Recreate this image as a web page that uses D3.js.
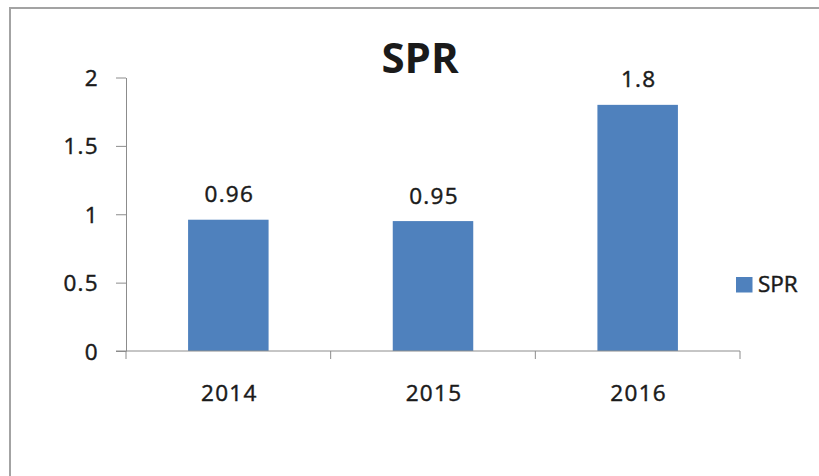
<!DOCTYPE html>
<html>
<head>
<meta charset="utf-8">
<script src="https://cdn.jsdelivr.net/npm/d3@7"></script>
<style>
  html, body { margin: 0; padding: 0; background: #fff; }
  svg { display: block; }
  text { font-family: "Open Sans", sans-serif; fill: #1a1a1a; }
  .reg { stroke: #1a1a1a; stroke-width: 0.45px; }
</style>
</head>
<body>
<svg id="chart" width="819" height="476"></svg>
<script>
const categories = ["2014", "2015", "2016"];
const seriesName = "SPR";
const values = [0.96, 0.95, 1.8];
const yTicks = [0, 0.5, 1, 1.5, 2];
const yTickLabels = ["0", "0.5", "1", "1.5", "2"];

const svg = d3.select("#chart");
const W = 819, H = 476;
const margin = { left: 126, right: 79, top: 77.5, bottom: 125 };
const plotW = W - margin.left - margin.right; // 614

// frame border (chart area outline, clipped by screenshot)
svg.append("path")
  .attr("d", `M10,${H} L10,8 L${W},8`)
  .attr("fill", "none")
  .attr("stroke", "#a3a3a3")
  .attr("stroke-width", 2);

const x = d3.scaleBand().domain(categories).range([margin.left, margin.left + plotW]).paddingInner(0).paddingOuter(0);
const y = d3.scaleLinear().domain([0, 2]).range([351, 77.5]);

const axisColor = "#8c8c8c";

// Y axis
const yAxis = d3.axisLeft(y).tickValues(yTicks)
  .tickFormat((d, i) => yTickLabels[i]).tickSize(10).tickPadding(17).tickSizeOuter(0);
const gy = svg.append("g").attr("transform", `translate(${margin.left},0)`).call(yAxis);
gy.select(".domain").attr("stroke", axisColor);
gy.selectAll(".tick line").attr("stroke", axisColor);
gy.selectAll(".tick text").attr("class", "reg").attr("font-family", "Open Sans").attr("font-size", 22.5)
  .attr("letter-spacing", "1.3px").attr("fill", "#1a1a1a").attr("dy", "0.36em");

// bars
const barW = 80.5;
svg.append("g").selectAll("rect").data(values).join("rect")
  .attr("x", (d, i) => x(categories[i]) + x.bandwidth() / 2 - barW / 2)
  .attr("y", d => y(d))
  .attr("width", barW)
  .attr("height", d => y(0) - y(d))
  .attr("fill", "#4f81bd");

// X axis
const gx = svg.append("g").attr("transform", `translate(0,${y(0)})`);
gx.append("line").attr("x1", margin.left - 10).attr("x2", margin.left + plotW)
  .attr("y1", 0).attr("y2", 0).attr("stroke", axisColor);
const bounds = categories.map(c => x(c)).concat([x(categories[categories.length - 1]) + x.bandwidth()]);
gx.selectAll("line.tk").data(bounds).join("line").attr("class", "tk")
  .attr("x1", d => d).attr("x2", d => d).attr("y1", 0).attr("y2", 8).attr("stroke", axisColor);
gx.selectAll("text").data(categories).join("text")
  .attr("class", "reg")
  .attr("x", d => x(d) + x.bandwidth() / 2 + 1)
  .attr("y", 49.5)
  .attr("text-anchor", "middle")
  .attr("font-size", 22.5).attr("letter-spacing", "1.3px")
  .text(d => d);

// value labels
svg.append("g").selectAll("text").data(values).join("text")
  .attr("class", "reg")
  .attr("x", (d, i) => x(categories[i]) + x.bandwidth() / 2 + 1)
  .attr("y", d => y(d) - 17.5)
  .attr("text-anchor", "middle")
  .attr("font-size", 22.5).attr("letter-spacing", "1.3px")
  .text(d => String(d));

// title
svg.append("text").attr("x", 420).attr("y", 73)
  .attr("text-anchor", "middle").attr("font-size", 42).attr("font-weight", "bold")
  .attr("fill", "#000").text(seriesName);

// legend
const lg = svg.append("g");
lg.append("rect").attr("x", 736).attr("y", 277).attr("width", 16.5).attr("height", 15.5).attr("fill", "#4f81bd");
lg.append("text").attr("class", "reg").attr("x", 758).attr("y", 291.5).attr("font-size", 22.5).text(seriesName);
</script>
</body>
</html>
